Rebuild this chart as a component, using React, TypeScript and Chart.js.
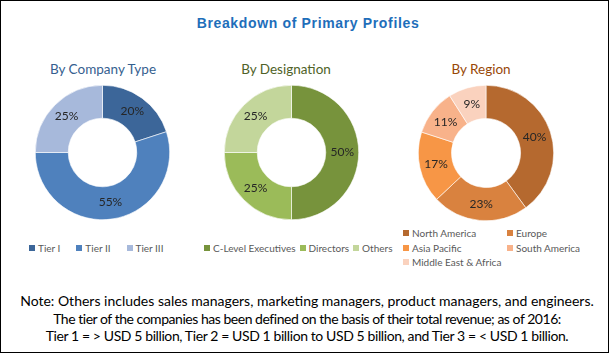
import React, { useEffect, useRef } from "react";
import { Chart, registerables } from "chart.js";

Chart.register(...registerables);

// ---- data ----
const mainTitle = "Breakdown of Primary Profiles";

const companyTitle = "By Company Type";
const companyLabels = ["Tier I", "Tier II", "Tier III"];
const companyValues = [20, 55, 25];
const companyColors = ["#3C6699", "#4F81BD", "#A7B9DB"];

const designationTitle = "By Designation";
const designationLabels = ["C-Level Executives", "Directors", "Others"];
const designationValues = [50, 25, 25];
const designationColors = ["#77933C", "#9BBB59", "#C3D69B"];

const regionTitle = "By Region";
const regionLabels = ["North America", "Europe", "Asia Pacific", "South America", "Middle East & Africa"];
const regionValues = [40, 23, 17, 11, 9];
const regionColors = ["#B5692F", "#D9823F", "#F79646", "#F8B28A", "#FAD2BE"];

const noteLines = [
  "Note: Others includes sales managers, marketing managers, product managers, and engineers.",
  "The tier of the companies has been defined on the basis of their total revenue; as of 2016:",
  "Tier 1 = > USD 5 billion, Tier 2 = USD 1 billion to USD 5 billion, and Tier 3 = < USD 1 billion.",
];
const noteSpacing = [0, -0.47, -0.4];

const FONT = "Lato, 'Open Sans', sans-serif";

const labelPlugin = {
  id: "sliceLabels",
  afterDatasetsDraw(chart: any) {
    const ctx = chart.ctx;
    const meta = chart.getDatasetMeta(0);
    const data = chart.data.datasets[0].data;
    ctx.save();
    ctx.font = `12px ${FONT}`;
    ctx.fillStyle = "#262626";
    ctx.textAlign = "center";
    ctx.textBaseline = "middle";
    meta.data.forEach((arc: any, i: number) => {
      const p = arc.tooltipPosition();
      ctx.fillText(`${data[i]}%`, p.x, p.y);
    });
    ctx.restore();
  },
};

function Donut({ labels, values, colors, cx, cy, r }: any) {
  const ref = useRef<HTMLCanvasElement>(null);
  useEffect(() => {
    if (!ref.current) return;
    const chart = new Chart(ref.current, {
      type: "doughnut",
      data: {
        labels,
        datasets: [
          {
            data: values,
            backgroundColor: colors,
            borderColor: "#ffffff",
            borderWidth: 0.6,
          },
        ],
      },
      options: {
        responsive: false,
        animation: false,
        cutout: "51%",
        layout: { padding: 0 },
        plugins: { legend: { display: false }, tooltip: { enabled: false }, title: { display: false } },
      },
      plugins: [labelPlugin],
    });
    return () => chart.destroy();
  }, []);
  const size = Math.round(r * 2 + 1);
  return (
    <canvas
      ref={ref}
      width={size}
      height={size}
      style={{ position: "absolute", left: cx - size / 2, top: cy - size / 2, width: size, height: size }}
    />
  );
}

function LegendItem({ color, text }: any) {
  return (
    <span style={{ display: "inline-flex", alignItems: "center", whiteSpace: "nowrap" }}>
      <span style={{ display: "inline-block", width: 6, height: 6, background: color, marginRight: 3 }} />
      <span>{text}</span>
    </span>
  );
}

export default function App() {
  useEffect(() => {
    document.body.style.margin = "0";
  }, []);
  const legendStyle: any = {
    position: "absolute",
    fontFamily: FONT,
    fontSize: 10,
    color: "#595959",
    lineHeight: "14.5px",
  };
  const subStyle = (color: string, cx: number): any => ({
    position: "absolute",
    left: cx - 100,
    width: 200,
    top: 59,
    lineHeight: "18px",
    textAlign: "center",
    fontFamily: FONT,
    fontSize: 13.5,
    color,
  });
  return (
    <div
      style={{
        position: "relative",
        width: 609,
        height: 353,
        border: "1px solid #000",
        boxSizing: "border-box",
        background: "#fff",
        overflow: "hidden",
      }}
    >
      <div
        style={{
          position: "absolute",
          left: 0,
          width: 614,
          top: 13,
          lineHeight: "18px",
          textAlign: "center",
          fontFamily: "'Liberation Sans', Arial, sans-serif",
          fontWeight: "bold",
          fontSize: 14,
          letterSpacing: 0.65,
          color: "#1E6EBA",
        }}
      >
        {mainTitle}
      </div>
      <div style={subStyle("#35608F", 102)}>{companyTitle}</div>
      <div style={subStyle("#4F6228", 285)}>{designationTitle}</div>
      <div style={subStyle("#984807", 480)}>{regionTitle}</div>

      <Donut labels={companyLabels} values={companyValues} colors={companyColors} cx={101} cy={151.5} r={67} />
      <Donut labels={designationLabels} values={designationValues} colors={designationColors} cx={290.5} cy={151.5} r={67} />
      <Donut labels={regionLabels} values={regionValues} colors={regionColors} cx={485} cy={151.5} r={67.5} />

      <div style={{ ...legendStyle, left: 28, top: 240, display: "flex", gap: 16 }}>
        {companyLabels.map((l, i) => (
          <LegendItem key={l} color={companyColors[i]} text={l} />
        ))}
      </div>
      <div style={{ ...legendStyle, left: 203, top: 240, display: "flex", gap: 4 }}>
        {designationLabels.map((l, i) => (
          <LegendItem key={l} color={designationColors[i]} text={l} />
        ))}
      </div>
      <div
        style={{
          ...legendStyle,
          left: 402,
          top: 225,
          display: "grid",
          gridTemplateColumns: "104px auto",
        }}
      >
        {regionLabels.map((l, i) => (
          <LegendItem key={l} color={regionColors[i]} text={l} />
        ))}
      </div>

      <div
        style={{
          position: "absolute",
          left: 0,
          width: 612,
          top: 291,
          textAlign: "center",
          fontFamily: FONT,
          fontSize: 14,
          lineHeight: "17.7px",
          color: "#000",
          whiteSpace: "nowrap",
        }}
      >
        {noteLines.map((t, i) => (
          <div key={t} style={{ letterSpacing: noteSpacing[i] }}>
            {t}
          </div>
        ))}
      </div>
    </div>
  );
}
